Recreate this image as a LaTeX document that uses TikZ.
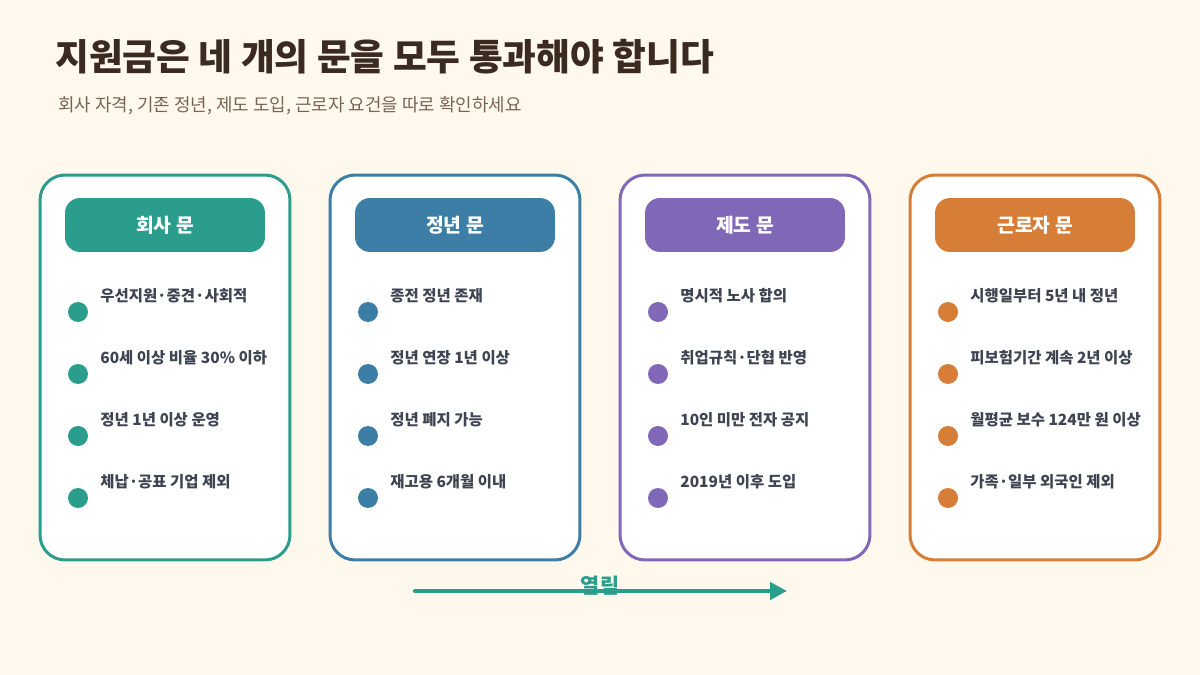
\documentclass[tikz,border=0pt]{standalone}
\usepackage{fontspec}
\setmainfont{Noto Sans CJK KR}
\usetikzlibrary{arrows.meta,positioning}
\definecolor{bg}{HTML}{FFF8EC}
\definecolor{ink}{HTML}{3B2A1F}
\definecolor{sub}{HTML}{7A6453}
\definecolor{txt}{HTML}{3E4451}
\definecolor{cteal}{HTML}{2A9D8C}
\definecolor{cblue}{HTML}{3D7EA6}
\definecolor{cpurp}{HTML}{8067B7}
\definecolor{corng}{HTML}{D67D37}
\tikzset{
  card/.style={draw=#1,line width=1.7pt,fill=white,rounded corners=0.5cm,minimum width=5cm,minimum height=7.7cm},
  head/.style={fill=#1,rounded corners=0.3cm,minimum width=4cm,minimum height=1.08cm,text=white,font=\bfseries\fontsize{11}{13}\selectfont},
  pip/.style={circle,fill=#1,inner sep=0pt,minimum size=0.4cm},
  item/.style={anchor=west,text=txt,inner sep=0pt,font=\bfseries\fontsize{8.8}{10}\selectfont},
  flow/.style={draw=cteal,line width=2.4pt,line cap=round,-{Triangle[length=0.34cm,width=0.34cm]}}
}

\begin{document}
\begin{tikzpicture}[x=0.02cm,y=-0.02cm,
 ttl/.style={anchor=west,inner sep=0pt,text=ink,font=\bfseries\fontsize{20.9}{24}\selectfont},
 stl/.style={anchor=west,inner sep=0pt,text=sub,font=\fontsize{10.2}{12}\selectfont}]
\fill[bg] (0,0) rectangle (1200,675);
\useasboundingbox (0,0) rectangle (1200,675);
\node[ttl] (title) at (55,57) {지원금은 네 개의 문을 모두 통과해야 합니다};
\node[stl] (subt) at (58,106) {회사 자격, 기존 정년, 제도 도입, 근로자 요건을 따로 확인하세요};
% company gate
\node[card=cteal] (c1) at (165,367.5) {};
\node[head=cteal] (h1) at (165,225) {회사 문};
\node[pip=cteal] (d11) at (78,312) {}; \node[item] (t11) at (100,296) {우선지원·중견·사회적};
\node[pip=cteal] (d12) at (78,374) {}; \node[item] (t12) at (100,358) {60세 이상 비율 30\% 이하};
\node[pip=cteal] (d13) at (78,436) {}; \node[item] (t13) at (100,420) {정년 1년 이상 운영};
\node[pip=cteal] (d14) at (78,498) {}; \node[item] (t14) at (100,482) {체납·공표 기업 제외};
% retirement gate
\node[card=cblue] (c2) at (455,367.5) {};
\node[head=cblue] (h2) at (455,225) {정년 문};
\node[pip=cblue] (d21) at (368,312) {}; \node[item] (t21) at (390,296) {종전 정년 존재};
\node[pip=cblue] (d22) at (368,374) {}; \node[item] (t22) at (390,358) {정년 연장 1년 이상};
\node[pip=cblue] (d23) at (368,436) {}; \node[item] (t23) at (390,420) {정년 폐지 가능};
\node[pip=cblue] (d24) at (368,498) {}; \node[item] (t24) at (390,482) {재고용 6개월 이내};
% system gate
\node[card=cpurp] (c3) at (745,367.5) {};
\node[head=cpurp] (h3) at (745,225) {제도 문};
\node[pip=cpurp] (d31) at (658,312) {}; \node[item] (t31) at (680,296) {명시적 노사 합의};
\node[pip=cpurp] (d32) at (658,374) {}; \node[item] (t32) at (680,358) {취업규칙·단협 반영};
\node[pip=cpurp] (d33) at (658,436) {}; \node[item] (t33) at (680,420) {10인 미만 전자 공지};
\node[pip=cpurp] (d34) at (658,498) {}; \node[item] (t34) at (680,482) {2019년 이후 도입};
% worker gate
\node[card=corng] (c4) at (1035,367.5) {};
\node[head=corng] (h4) at (1035,225) {근로자 문};
\node[pip=corng] (d41) at (948,312) {}; \node[item] (t41) at (970,296) {시행일부터 5년 내 정년};
\node[pip=corng] (d42) at (948,374) {}; \node[item] (t42) at (970,358) {피보험기간 계속 2년 이상};
\node[pip=corng] (d43) at (948,436) {}; \node[item] (t43) at (970,420) {월평균 보수 124만 원 이상};
\node[pip=corng] (d44) at (948,498) {}; \node[item] (t44) at (970,482) {가족·일부 외국인 제외};
% opening arrow
\coordinate (as) at (415,591); \coordinate (ae) at (787,591);
\draw[flow] (as)--(ae);
\node[text=cteal,inner sep=0pt,font=\bfseries\fontsize{11.8}{13}\selectfont] (open) at (600,586) {열림};
\end{tikzpicture}
\end{document}
